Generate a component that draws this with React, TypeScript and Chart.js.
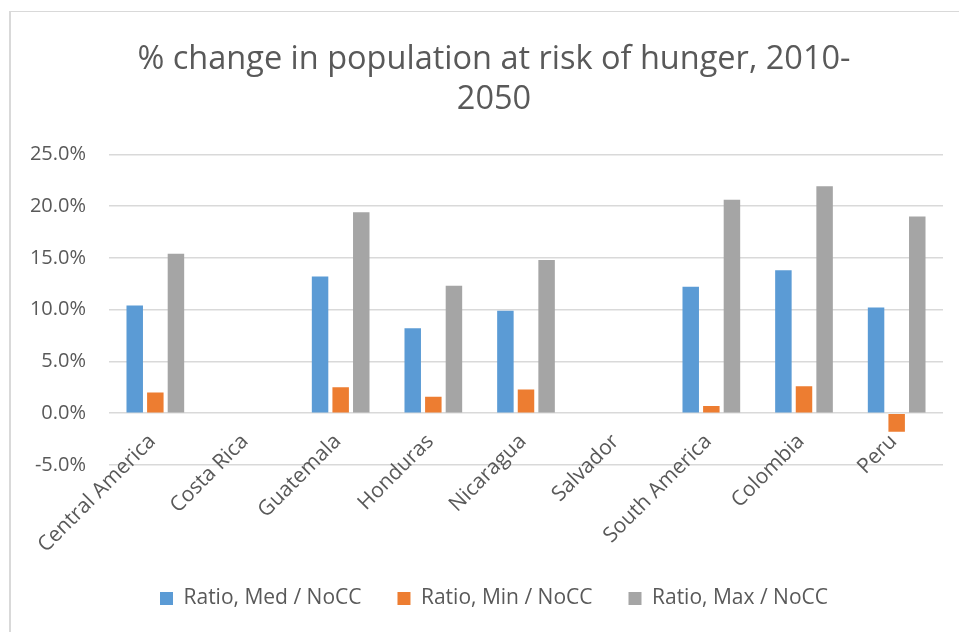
import { useEffect, useRef } from "react";
import { Chart, registerables } from "chart.js";

Chart.register(...registerables);

const categories = [
  "Central America",
  "Costa Rica",
  "Guatemala",
  "Honduras",
  "Nicaragua",
  "Salvador",
  "South America",
  "Colombia",
  "Peru",
];
const medValues = [10.4, null, 13.2, 8.2, 9.9, null, 12.2, 13.8, 10.2];
const minValues = [2.0, null, 2.5, 1.6, 2.3, null, 0.7, 2.6, -1.8];
const maxValues = [15.4, null, 19.4, 12.3, 14.8, null, 20.6, 21.9, 19.0];
const seriesNames = ["Ratio, Med / NoCC", "Ratio, Min / NoCC", "Ratio, Max / NoCC"];
const seriesColors = ["#5b9bd5", "#ed7d31", "#a5a5a5"];
const titleLines = ["% change in population at risk of hunger, 2010-", "2050"];
const yTickValues = [-5, 0, 5, 10, 15, 20, 25];

const FONT = "'Open Sans', 'DejaVu Sans', sans-serif";
const TEXT = "#595959";

export default function App() {
  const ref = useRef<HTMLCanvasElement | null>(null);

  useEffect(() => {
    if (!ref.current) return;
    const series = [medValues, minValues, maxValues];
    const chart = new Chart(ref.current, {
      type: "bar",
      data: {
        labels: categories,
        datasets: series.map((vals, i) => ({
          label: seriesNames[i],
          data: vals,
          backgroundColor: seriesColors[i],
          borderWidth: 0,
          barPercentage: 0.8,
          categoryPercentage: 0.667,
        })),
      },
      options: {
        animation: false,
        responsive: false,
        maintainAspectRatio: false,
        layout: { padding: { left: 0, right: 0, top: 0, bottom: 13 } },
        plugins: {
          title: {
            display: true,
            text: titleLines,
            color: TEXT,
            font: { family: FONT, size: 32.5, weight: "normal", lineHeight: 1.25 },
            padding: { top: 39, bottom: 34 },
          },
          legend: {
            position: "bottom",
            title: {
              display: true,
              text: "",
              font: { size: 1, lineHeight: 1 },
              padding: { top: 86, bottom: 0 },
            },
            labels: {
              color: TEXT,
              font: { family: FONT, size: 21 },
              boxWidth: 13,
              boxHeight: 13,
              padding: 36,
            },
          },
          tooltip: { enabled: false },
        },
        scales: {
          x: {
            position: { y: 0 },
            grid: { display: false, drawTicks: false },
            border: { display: false },
            ticks: {
              color: TEXT,
              font: { family: FONT, size: 21 },
              minRotation: 45,
              maxRotation: 45,
              padding: 16,
              labelOffset: -3,
              autoSkip: false,
            },
          },
          y: {
            min: yTickValues[0],
            max: yTickValues[yTickValues.length - 1],
            grid: { color: "#d9d9d9", lineWidth: 1.5, drawTicks: false },
            border: { display: false },
            ticks: {
              stepSize: yTickValues[1] - yTickValues[0],
              color: TEXT,
              font: { family: FONT, size: 20 },
              padding: 23,
              callback: (v: any) => Number(v).toFixed(1) + "%",
            },
            afterFit: (s: any) => {
              s.width = 109;
            },
          },
          spacer: {
            type: "linear",
            position: "right",
            display: true,
            grid: { display: false, drawTicks: false },
            border: { display: false },
            ticks: { display: false },
            afterFit: (s: any) => {
              s.width = 45;
            },
          },
        },
      },
    });
    return () => chart.destroy();
  }, []);

  return (
    <div
      style={{
        position: "absolute",
        left: 0,
        top: 0,
        width: 959,
        height: 632,
        overflow: "hidden",
        background: "#fff",
      }}
    >
      <div
        style={{
          position: "absolute",
          left: 9,
          top: 11,
          width: 980,
          height: 650,
          borderLeft: "2px solid #d9d9d9",
          borderTop: "1px solid #d9d9d9",
        }}
      />
      <canvas
        ref={ref}
        width={988}
        height={632}
        style={{ position: "absolute", left: 0, top: 0, width: 988, height: 632 }}
      />
    </div>
  );
}
